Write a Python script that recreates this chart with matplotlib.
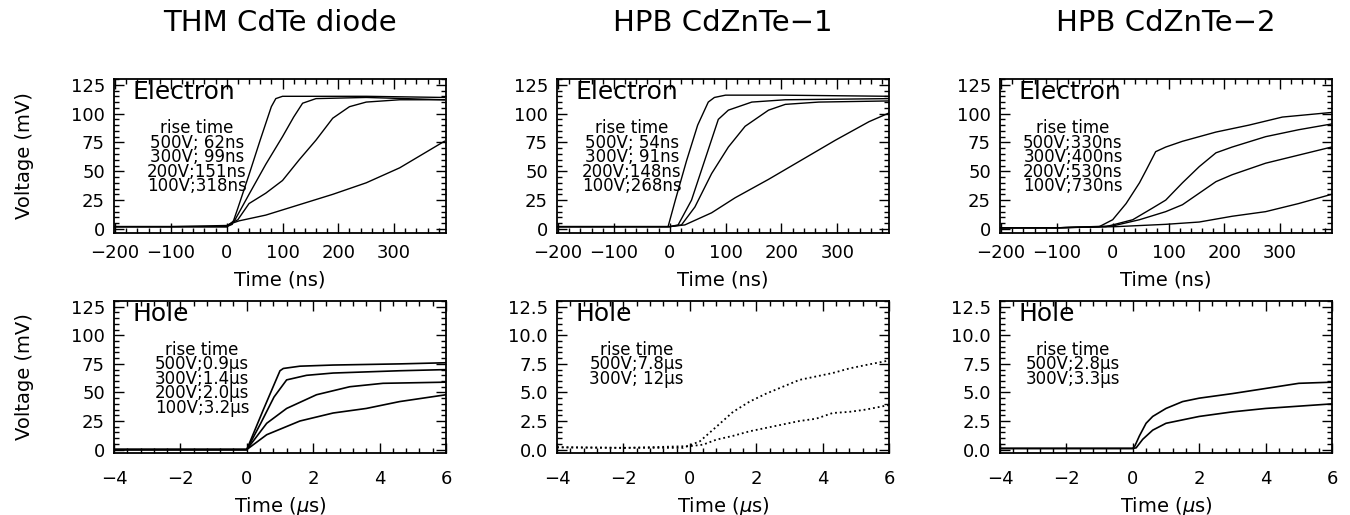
import numpy as np
import matplotlib.pyplot as plt
from matplotlib.ticker import MultipleLocator

# ---- electron signals (time in ns, voltage in mV) ----
thm_e_t = {
    '500V': [-200, -100, 0, 10, 20, 40, 60, 80, 88, 100, 150, 250, 390],
    '300V': [-200, -100, 0, 15, 40, 70, 100, 120, 136, 160, 250, 390],
    '200V': [-200, -100, 0, 20, 40, 70, 100, 130, 160, 190, 220, 250, 310, 390],
    '100V': [-200, -100, 0, 10, 22, 70, 130, 190, 250, 310, 390],
}
thm_e_v = {
    '500V': [2, 2, 2, 4, 18, 47, 77, 106, 113, 115, 115, 115, 114],
    '300V': [2, 2, 2, 8, 30, 56, 80, 97, 109, 113, 114, 112],
    '200V': [2, 2, 3, 8, 22, 31, 42, 60, 77, 96, 106, 110, 112, 112],
    '100V': [2, 2, 2, 5, 7, 12, 21, 30, 40, 53, 76],
}

hpb1_e_t = {
    '500V': [-200, -100, -3, 10, 30, 50, 69, 80, 100, 200, 395],
    '300V': [-200, -100, 0, 15, 39, 63, 87, 105, 147, 207, 395],
    '200V': [-200, -100, 0, 21, 45, 75, 105, 135, 177, 207, 267, 395],
    '100V': [-200, -100, 0, 27, 75, 117, 177, 237, 297, 357, 395],
}
hpb1_e_v = {
    '500V': [2, 2, 2, 25, 59, 90, 110, 114, 116, 116, 115],
    '300V': [2, 2, 2, 3.5, 25, 60, 95, 103, 110, 112, 113],
    '200V': [2, 2, 2, 3.5, 19, 48, 71, 89, 103, 108, 110, 111],
    '100V': [2, 2, 2, 3.5, 14, 27, 43, 60, 77, 93, 101],
}

hpb2_e_t = {
    '500V': [-200, -100, -24, 0, 24, 48, 60, 77, 95, 125, 185, 244, 304, 392],
    '300V': [-200, -100, -12, 36, 71, 95, 125, 155, 185, 214, 274, 333, 392],
    '200V': [-200, -100, 0, 48, 95, 125, 155, 185, 214, 274, 333, 392],
    '100V': [-200, -100, 6, 95, 155, 214, 274, 333, 392],
}
hpb2_e_v = {
    '500V': [1, 1, 2, 8, 22, 40, 51, 67, 71, 76, 84, 90, 97, 101],
    '300V': [1, 1, 2, 8, 18, 25, 40, 54, 66, 71, 80, 86, 91],
    '200V': [1, 1, 2.6, 8, 15, 21, 31, 41, 47, 57, 64, 71],
    '100V': [1, 1, 2, 4, 6, 11, 15, 22, 30],
}

# ---- hole signals (time in us, voltage in mV) ----
thm_h_t = {
    '500V': [-4, -2, 0, 0.5, 1.0, 1.1, 1.6, 2.6, 4.6, 6],
    '300V': [-4, -2, 0, 0.42, 0.82, 1.2, 1.8, 2.6, 4.6, 6],
    '200V': [-4, -2, 0, 0.6, 1.2, 2.1, 3.1, 4.1, 6],
    '100V': [-4, -2, 0, 0.6, 1.6, 2.6, 3.6, 4.6, 6],
}
thm_h_v = {
    '500V': [0, 0, 0, 35, 69, 71, 73, 74, 75, 76],
    '300V': [0, 0, 0, 23, 46, 61, 65, 67, 69, 70],
    '200V': [0, 0, 0, 23, 36, 48, 55, 58, 59],
    '100V': [0, 0, 0, 13, 25, 32, 36, 42, 48],
}

hpb1_h_t = {
    '500V': [-4, -2, -0.2, 0.3, 0.8, 1.3, 1.8, 2.3, 2.8, 3.3, 3.8, 4.3, 4.8, 5.3, 6],
    '300V': [-4, -2, 0, 0.4, 0.8, 1.3, 1.8, 2.3, 2.8, 3.3, 3.8, 4.3, 4.8, 5.3, 6],
}
hpb1_h_v = {
    '500V': [0.2, 0.15, 0.15, 0.72, 2.0, 3.3, 4.2, 4.9, 5.5, 6.1, 6.4, 6.7, 7.1, 7.4, 7.8],
    '300V': [0.2, 0.15, 0.3, 0.43, 0.87, 1.2, 1.6, 1.9, 2.2, 2.5, 2.7, 3.2, 3.3, 3.5, 3.9],
}

hpb2_h_t = {
    '500V': [-4, -2, 0, 0.06, 0.2, 0.4, 0.6, 1.0, 1.5, 2.0, 3.0, 4.0, 5.0, 6],
    '300V': [-4, -2, 0, 0.1, 0.3, 0.6, 1.0, 2.0, 3.0, 4.0, 5.0, 6],
}
hpb2_h_v = {
    '500V': [0.1, 0.1, 0.1, 0.3, 1.2, 2.3, 2.9, 3.6, 4.2, 4.5, 4.9, 5.35, 5.8, 5.9],
    '300V': [0.1, 0.1, 0.1, 0.15, 0.9, 1.7, 2.3, 2.9, 3.3, 3.6, 3.8, 4.0],
}

titles = ['THM CdTe diode', 'HPB CdZnTe\u22121', 'HPB CdZnTe\u22122']
e_rise = [['500V; 62ns', '300V; 99ns', '200V;151ns', '100V;318ns'],
          ['500V; 54ns', '300V; 91ns', '200V;148ns', '100V;268ns'],
          ['500V;330ns', '300V;400ns', '200V;530ns', '100V;730ns']]
h_rise = [['500V;0.9\u03bcs', '300V;1.4\u03bcs', '200V;2.0\u03bcs', '100V;3.2\u03bcs'],
          ['500V;7.8\u03bcs', '300V; 12\u03bcs'],
          ['500V;2.8\u03bcs', '300V;3.3\u03bcs']]
e_text_x = [0.25, 0.225, 0.22]
h_text_x = [0.265, 0.24, 0.22]

e_data = [(thm_e_t, thm_e_v), (hpb1_e_t, hpb1_e_v), (hpb2_e_t, hpb2_e_v)]
h_data = [(thm_h_t, thm_h_v), (hpb1_h_t, hpb1_h_v), (hpb2_h_t, hpb2_h_v)]

plt.rcParams['font.family'] = 'DejaVu Sans'
plt.rcParams['mathtext.fontset'] = 'dejavusans'

fig = plt.figure(figsize=(13.5, 5.15), dpi=100)
lefts = [0.0844, 0.4126, 0.7407]
w = 0.246


def style(ax, xmaj, xmin, ymaj, ymin, xpad):
    ax.xaxis.set_major_locator(MultipleLocator(xmaj))
    ax.xaxis.set_minor_locator(MultipleLocator(xmin))
    ax.yaxis.set_major_locator(MultipleLocator(ymaj))
    ax.yaxis.set_minor_locator(MultipleLocator(ymin))
    ax.tick_params(which='both', direction='in', top=True, right=True,
                   labelsize=13, width=1)
    ax.tick_params(which='major', length=7)
    ax.tick_params(which='minor', length=3.5)
    ax.tick_params(axis='y', pad=6.5)
    ax.tick_params(axis='x', pad=xpad)
    for s in ax.spines.values():
        s.set_linewidth(1.3)


def rise_block(ax, x, lines):
    ax.text(x, 0.74, 'rise time\n' + '\n'.join(lines),
            transform=ax.transAxes, fontsize=12, va='top', ha='center',
            linespacing=0.75)


for i in range(3):
    # electron panel
    ax = fig.add_axes([lefts[i], 0.5476, w, 0.299])
    t, v = e_data[i]
    for k in t:
        ax.plot(t[k], v[k], color='black', lw=1.0)
    ax.set_xlim(-202, 393)
    ax.set_ylim(-3.5, 130)
    style(ax, 100, 20, 25, 5, 8)
    ax.set_xlabel('Time (ns)', fontsize=14, labelpad=6)
    if i == 0:
        ax.set_ylabel('Voltage (mV)', fontsize=14, labelpad=26)
    ax.text(0.055, 0.995, 'Electron', transform=ax.transAxes, fontsize=18,
            va='top', ha='left')
    rise_block(ax, e_text_x[i], e_rise[i])
    fig.text(lefts[i] + w / 2, 0.955, titles[i], fontsize=21,
             ha='center', va='center')

    # hole panel
    ax = fig.add_axes([lefts[i], 0.1204, w, 0.295])
    t, v = h_data[i]
    ls = ':' if i == 1 else '-'
    for k in t:
        ax.plot(t[k], v[k], color='black', lw=1.2 if i != 1 else 1.3, ls=ls)
    ax.set_xlim(-4, 6)
    if i == 0:
        ax.set_ylim(-3, 130)
        style(ax, 2, 0.4, 25, 5, 12)
        ax.set_ylabel('Voltage (mV)', fontsize=14, labelpad=26)
    else:
        ax.set_ylim(-0.3, 13.0)
        style(ax, 2, 0.4, 2.5, 0.5, 12)
        ax.yaxis.set_major_formatter(plt.FormatStrFormatter('%.1f'))
    ax.set_xlabel('Time ($\\mu$s)', fontsize=14, labelpad=5)
    ax.text(0.055, 0.995, 'Hole', transform=ax.transAxes, fontsize=18,
            va='top', ha='left')
    rise_block(ax, h_text_x[i], h_rise[i])

fig.savefig('out.png', dpi=100)
